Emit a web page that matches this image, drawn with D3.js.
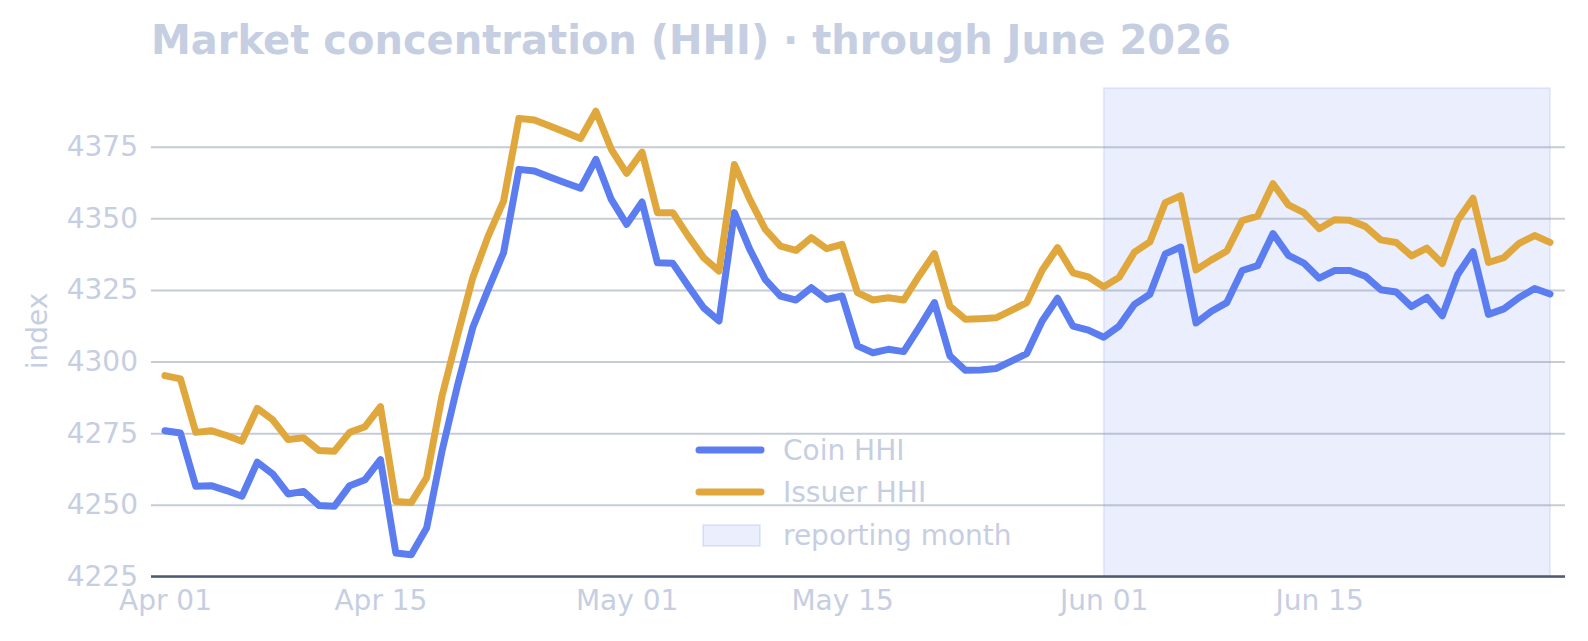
<!DOCTYPE html>
<html><head><meta charset="utf-8">
<script src="https://cdn.jsdelivr.net/npm/d3@7"></script>
<style>
html,body{margin:0;padding:0;background:#fff;}
svg{display:block;font-family:"DejaVu Sans",sans-serif;}
</style></head>
<body>
<svg id="chart" width="1588" height="641"></svg>
<script>
const startDate = "2026-04-01";
const endDate = "2026-06-30";
const bandStart = "2026-06-01";
const seriesNames = ["Coin HHI", "Issuer HHI"];
const bandLabel = "reporting month";
const coin = [
4275.9, 4275.1, 4256.5, 4256.7, 4255.0, 4253.0, 4264.9, 4260.8, 4253.8, 4254.7,
4249.8, 4249.5, 4256.7, 4258.8, 4265.8, 4233.2, 4232.6, 4241.9, 4268.8, 4291.5,
4311.9, 4325.2, 4338.0, 4367.1, 4366.5, 4364.4, 4362.4, 4360.5, 4370.6, 4356.6,
4347.9, 4355.7, 4334.5, 4334.3, 4326.4, 4318.8, 4314.2, 4352.0, 4339.2, 4328.7,
4322.9, 4321.5, 4325.8, 4321.7, 4322.9, 4305.5, 4303.1, 4304.3, 4303.5, 4311.9,
4320.6, 4302.0, 4297.0, 4297.1, 4297.6, 4300.2, 4302.8, 4314.2, 4322.1, 4312.4,
4311.0, 4308.5, 4312.4, 4320.0, 4323.5, 4337.6, 4340.0, 4313.5, 4317.6, 4320.6,
4331.8, 4333.5, 4344.7, 4337.1, 4334.4, 4329.1, 4331.8, 4331.8, 4329.8, 4325.1,
4324.3, 4319.2, 4322.4, 4316.0, 4330.4, 4338.4, 4316.5, 4318.4, 4322.4, 4325.5,
4323.6
];
const issuer = [
4295.1, 4294.0, 4275.3, 4275.9, 4274.2, 4272.2, 4283.7, 4279.7, 4272.8, 4273.4,
4269.0, 4268.7, 4275.3, 4277.3, 4284.3, 4251.2, 4250.8, 4259.5, 4288.0, 4309.0,
4329.3, 4343.8, 4356.0, 4384.9, 4384.3, 4382.2, 4380.1, 4377.9, 4387.4, 4374.1,
4365.7, 4373.1, 4352.0, 4352.0, 4343.8, 4336.3, 4331.6, 4368.8, 4356.6, 4346.2,
4340.3, 4338.8, 4343.3, 4339.4, 4340.9, 4324.1, 4321.5, 4322.3, 4321.5, 4329.9,
4337.7, 4319.4, 4314.8, 4315.0, 4315.3, 4317.9, 4320.6, 4331.9, 4339.8, 4331.0,
4329.6, 4326.1, 4329.4, 4338.2, 4341.8, 4355.5, 4357.9, 4332.0, 4335.5, 4338.6,
4349.2, 4350.8, 4362.1, 4354.7, 4352.0, 4346.4, 4349.5, 4349.3, 4347.2, 4342.5,
4341.6, 4336.9, 4339.6, 4334.2, 4349.3, 4357.0, 4334.6, 4336.3, 4341.3, 4344.0,
4341.6
];
const yTicks = [4225, 4250, 4275, 4300, 4325, 4350, 4375];
const xTickLabels = ["Apr 01", "Apr 15", "May 01", "May 15", "Jun 01", "Jun 15"];
const xTickDates = ["2026-04-01", "2026-04-15", "2026-05-01", "2026-05-15", "2026-06-01", "2026-06-15"];
const yDomain = [4225, 4395.5];
const titleText = "Market concentration (HHI) · through June 2026";
const yLabel = "index";

const parse = d3.utcParse("%Y-%m-%d");
const dates = d3.utcDay.range(parse(startDate), d3.utcDay.offset(parse(endDate), 1));

const textColor = "#c6cee2";
const colors = ["#5b7df0", "#e0a83c"];
const fs = 28;

const svg = d3.select("#chart");
const x = d3.scaleUtc().domain([parse(startDate), parse(endDate)]).range([165, 1550]);
const y = d3.scaleLinear().domain(yDomain).range([576.5, 88]);
const gridL = 151, gridR = 1565;

// band
svg.append("rect")
  .attr("x", x(parse(bandStart))).attr("y", y(yDomain[1]))
  .attr("width", x(parse(endDate)) - x(parse(bandStart)))
  .attr("height", y(yDomain[0]) - y(yDomain[1]))
  .attr("fill", "#5b7df0").attr("fill-opacity", 0.13)
  .attr("stroke", "#5b7df0").attr("stroke-opacity", 0.12).attr("stroke-width", 2);

// y axis with grid
const yAxis = svg.append("g").attr("transform", `translate(${gridL},0)`)
  .call(d3.axisLeft(y).tickValues(yTicks).tickSize(-(gridR - gridL)).tickPadding(13).tickFormat(d3.format("d")));
yAxis.select(".domain").remove();
yAxis.selectAll(".tick line").attr("stroke", "#8e97ad").attr("stroke-opacity", 0.5).attr("stroke-width", 2);
yAxis.selectAll(".tick text").attr("fill", textColor).attr("font-size", fs).attr("font-family", "DejaVu Sans");

// x axis
const xAxis = svg.append("g").attr("transform", `translate(0,${y(yDomain[0])})`)
  .call(d3.axisBottom(x).tickValues(xTickDates.map(parse)).tickSize(0).tickPadding(14)
    .tickFormat((d, i) => xTickLabels[i]));
xAxis.select(".domain").remove();
xAxis.selectAll(".tick text").attr("fill", textColor).attr("font-size", fs).attr("font-family", "DejaVu Sans");
xAxis.append("line").attr("x1", gridL).attr("x2", gridR).attr("y1", 0).attr("y2", 0)
  .attr("stroke", "#4f5b70").attr("stroke-width", 2.5);

// lines
const line = d3.line().x((d, i) => x(dates[i])).y(d => y(d));
[coin, issuer].forEach((s, k) => {
  svg.append("path").datum(s).attr("d", line).attr("fill", "none")
    .attr("stroke", colors[k]).attr("stroke-width", 7)
    .attr("stroke-linejoin", "round").attr("stroke-linecap", "round");
});

// title
svg.append("text").attr("x", 151).attr("y", 54).text(titleText)
  .attr("fill", textColor).attr("font-size", 40).attr("font-weight", "bold").attr("font-family", "DejaVu Sans");

// y label
svg.append("text").attr("transform", "translate(47,331) rotate(-90)").attr("text-anchor", "middle")
  .text(yLabel).attr("fill", textColor).attr("font-size", fs).attr("font-family", "DejaVu Sans");

// legend
const lg = svg.append("g");
seriesNames.forEach((n, k) => {
  const ly = 450 + k * 42;
  lg.append("line").attr("x1", 699).attr("x2", 761).attr("y1", ly).attr("y2", ly)
    .attr("stroke", colors[k]).attr("stroke-width", 7).attr("stroke-linecap", "round");
  lg.append("text").attr("x", 783).attr("y", ly).attr("dy", "0.35em").text(n)
    .attr("fill", textColor).attr("font-size", fs).attr("font-family", "DejaVu Sans");
});
lg.append("rect").attr("x", 703).attr("y", 525).attr("width", 57).attr("height", 21)
  .attr("fill", "#5b7df0").attr("fill-opacity", 0.13).attr("stroke", "#5b7df0").attr("stroke-opacity", 0.15).attr("stroke-width", 2);
lg.append("text").attr("x", 783).attr("y", 535).attr("dy", "0.35em").text(bandLabel)
  .attr("fill", textColor).attr("font-size", fs).attr("font-family", "DejaVu Sans");
</script>
</body></html>
